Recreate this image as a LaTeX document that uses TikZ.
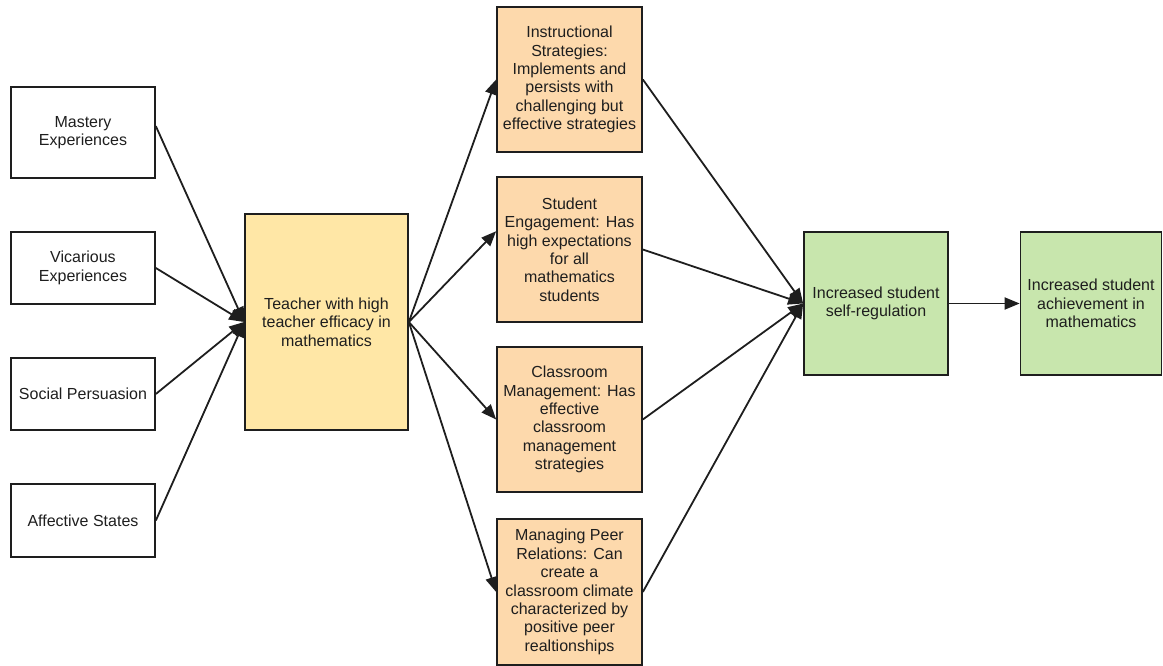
\documentclass[tikz,border=0pt]{standalone}
\usepackage{fontspec}
\setmainfont{Liberation Sans}
\usetikzlibrary{arrows.meta,calc}
\definecolor{peach}{HTML}{FDD9AC}
\definecolor{sand}{HTML}{FFE7A6}
\definecolor{leaf}{HTML}{C8E6AD}
\definecolor{ink}{HTML}{1E1E1E}
\begin{document}
\begin{tikzpicture}[x=1pt,y=-1pt,
  box/.style={draw=ink, line width=1.7pt, rectangle, align=center, text=ink,
    inner sep=2pt, font=\fontsize{16}{18.4}\selectfont},
  link/.style={draw=ink, line width=1.8pt, -{Triangle[length=15pt,width=12pt]}}]
\useasboundingbox (0,0) rectangle (1163,666);

% sources of efficacy
\node[box, minimum width=144pt, minimum height=91pt] (mastery) at (83,132.5) {Mastery\\Experiences};
\node[box, minimum width=144pt, minimum height=72pt] (vicarious) at (83,268) {Vicarious\\Experiences};
\node[box, minimum width=144pt, minimum height=72pt] (social) at (83,394) {Social Persuasion};
\node[box, minimum width=144pt, minimum height=73pt] (affective) at (83,520.5) {Affective States};

% central teacher node
\node[box, fill=sand, minimum width=163pt, minimum height=216pt] (teacher) at (326.5,322)
  {Teacher with high\\teacher efficacy in\\mathematics};

% teacher behaviours
\node[box, fill=peach, minimum width=145pt, minimum height=145pt] (instr) at (569.5,79.5)
  {Instructional\\Strategies:\\Implements and\\persists with\\challenging but\\effective strategies};
\node[box, fill=peach, minimum width=145pt, minimum height=145pt] (eng) at (569.5,249.5)
  {Student\\Engagement: Has\\high expectations\\for all\\mathematics\\students};
\node[box, fill=peach, minimum width=145pt, minimum height=145pt] (cls) at (569.5,419.5)
  {Classroom\\Management: Has\\effective\\classroom\\management\\strategies};
\node[box, fill=peach, minimum width=145pt, minimum height=146pt] (peer) at (569.5,592)
  {Managing Peer\\Relations: Can\\create a\\classroom climate\\characterized by\\positive peer\\realtionships};

% student outcomes
\node[box, fill=leaf, minimum width=144pt, minimum height=143pt] (selfreg) at (876,303.5)
  {Increased student\\self-regulation};
\node[box, fill=leaf, minimum width=141pt, minimum height=143pt] (achieve) at (1091,303.5)
  {Increased student\\achievement in\\mathematics};

% connectors
\draw[link] (mastery.5) -- (teacher.west);
\draw[link] (vicarious.east) -- (teacher.west);
\draw[link] (social.east) -- (teacher.west);
\draw[link] (affective.east) -- (teacher.west);

\draw[link] (teacher.east) -- (instr.west);
\draw[link] (teacher.east) -- (eng.166);
\draw[link] (teacher.east) -- (cls.west);
\draw[link] (teacher.east) -- (peer.west);

\draw[link] (instr.east) -- (selfreg.west);
\draw[link] (eng.east) -- (selfreg.west);
\draw[link] (cls.east) -- (selfreg.west);
\draw[link] (peer.east) -- (selfreg.west);

\draw[link] (selfreg.east) -- (achieve.west);
\end{tikzpicture}
\end{document}
